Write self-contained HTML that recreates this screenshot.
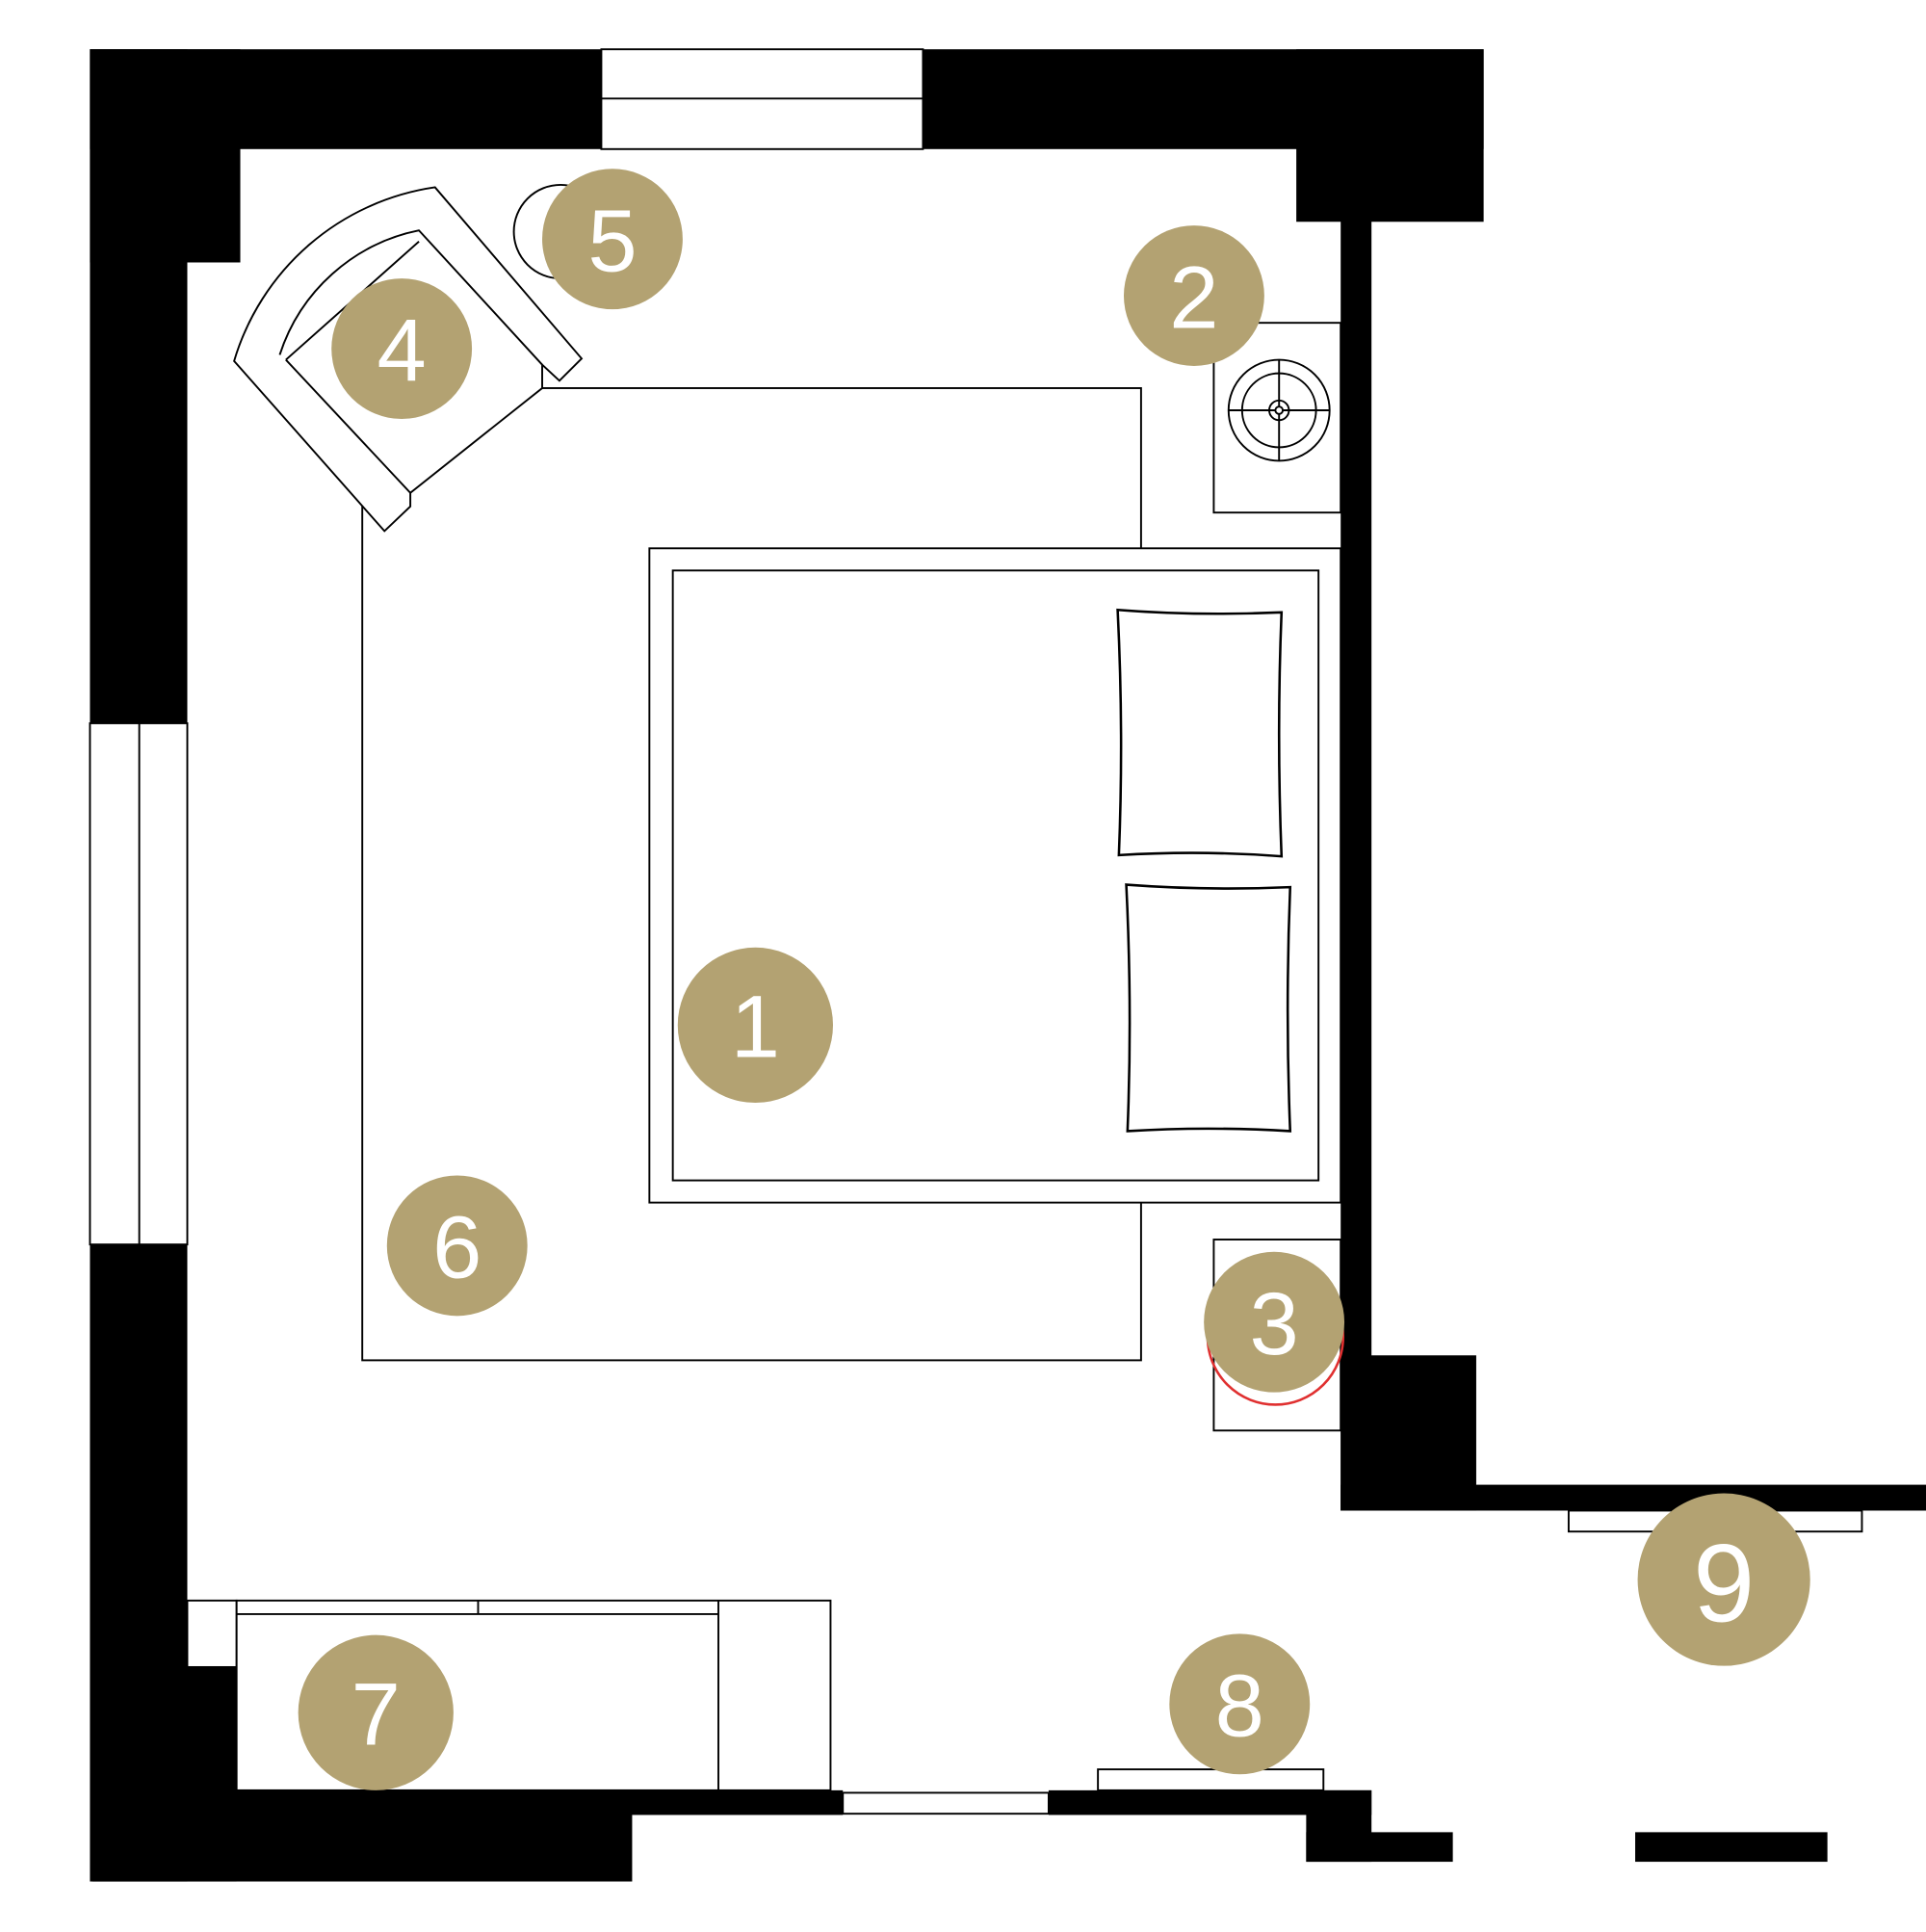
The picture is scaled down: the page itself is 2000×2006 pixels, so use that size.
<!DOCTYPE html>
<html><head><meta charset="utf-8"><style>
html,body{margin:0;padding:0;background:#fff;}
svg{display:block;}
text{font-family:"Liberation Sans",sans-serif;fill:#fff;text-anchor:middle;}
</style></head><body>
<svg width="2000" height="2006" viewBox="0 0 1563 1568" preserveAspectRatio="none" xmlns="http://www.w3.org/2000/svg">
<g fill="#000">
<rect x="73" y="40" width="415" height="81"/>
<rect x="73" y="40" width="122" height="173"/>
<rect x="73" y="40" width="79" height="547"/>
<rect x="749" y="40" width="455" height="81"/>
<rect x="1052" y="40" width="152" height="140"/>
<rect x="1088" y="170" width="25" height="1056"/>
<rect x="1088" y="1100" width="110" height="126"/>
<rect x="1088" y="1205" width="475" height="21"/>
<rect x="73" y="1010" width="79" height="517"/>
<rect x="75" y="1353" width="117" height="174"/>
<rect x="75" y="1453" width="438" height="74"/>
<rect x="192" y="1453" width="492" height="20"/>
<rect x="851" y="1453" width="262" height="20"/>
<rect x="1060" y="1453" width="53" height="58"/>
<rect x="1060" y="1487" width="119" height="24"/>
<rect x="1327" y="1487" width="156" height="24"/>
</g>
<g fill="#fff" stroke="#000" stroke-width="1.5">
<rect x="488" y="40" width="261" height="81"/>
<line x1="488" y1="80" x2="749" y2="80"/>
<rect x="73" y="587" width="79" height="423"/>
<line x1="113" y1="587" x2="113" y2="1010"/>
<rect x="684" y="1455" width="167" height="17"/>
<rect x="1273" y="1226" width="238" height="17"/>
<rect x="891" y="1436" width="183" height="17"/>
<rect x="294" y="315" width="632" height="789"/>
<rect x="985" y="262" width="103" height="154"/>
<rect x="985" y="1006" width="103" height="155"/>
<rect x="527" y="445" width="561" height="531"/>
<rect x="546" y="463" width="524" height="495"/>
<rect x="152" y="1299" width="40" height="54"/>
<rect x="192" y="1299" width="482" height="154"/>
<line x1="192" y1="1310" x2="583" y2="1310"/>
<line x1="388" y1="1299" x2="388" y2="1310"/>
<line x1="583" y1="1299" x2="583" y2="1453"/>
<circle cx="455" cy="188" r="38"/>
<path d="M190,293 A200,200 0 0 1 353,152 L472,291 L454,309 L440,296 L440,315 L333,400 L333,411 L312,431 L190,293 Z"/>
<path d="M227,288 A150,150 0 0 1 340,187 L440,296"/>
<path d="M232,292 L340,196 M232,292 L333,400"/>
<circle cx="1038" cy="333" r="41"/>
<circle cx="1038" cy="333" r="30"/>
<circle cx="1038" cy="333" r="8"/>
<line x1="997" y1="333" x2="1079" y2="333"/>
<line x1="1038" y1="292" x2="1038" y2="374"/>
<circle cx="1038" cy="333" r="3"/>
</g>
<circle cx="1035" cy="1085" r="55" fill="none" stroke="#e03030" stroke-width="2"/>
<g fill="#fff" stroke="#000" stroke-width="2">
<path d="M907,495 Q970,500 1040,497 Q1036,595 1040,695 Q975,690 908,694 Q912,595 907,495 Z"/>
<path d="M914,718 Q980,723 1047,720 Q1043,820 1047,918 Q980,914 915,918 Q919,820 914,718 Z"/>
</g>
<g fill="#b3a272">
<circle cx="613" cy="832" r="63"/>
<circle cx="969" cy="240" r="57"/>
<circle cx="1034" cy="1073" r="57"/>
<circle cx="326" cy="283" r="57"/>
<circle cx="497" cy="194" r="57"/>
<circle cx="371" cy="1011" r="57"/>
<circle cx="305" cy="1390" r="63"/>
<circle cx="1006" cy="1383" r="57"/>
<circle cx="1399" cy="1282" r="70"/>
</g>
<g font-size="72">
<text x="613" y="858">1</text>
<text x="969" y="266">2</text>
<text x="1034" y="1099">3</text>
<text x="326" y="309">4</text>
<text x="497" y="220">5</text>
<text x="371" y="1037">6</text>
<text x="305" y="1416">7</text>
<text x="1006" y="1409">8</text>
<text x="1399" y="1316" font-size="90">9</text>
</g>
</svg>
</body></html>
